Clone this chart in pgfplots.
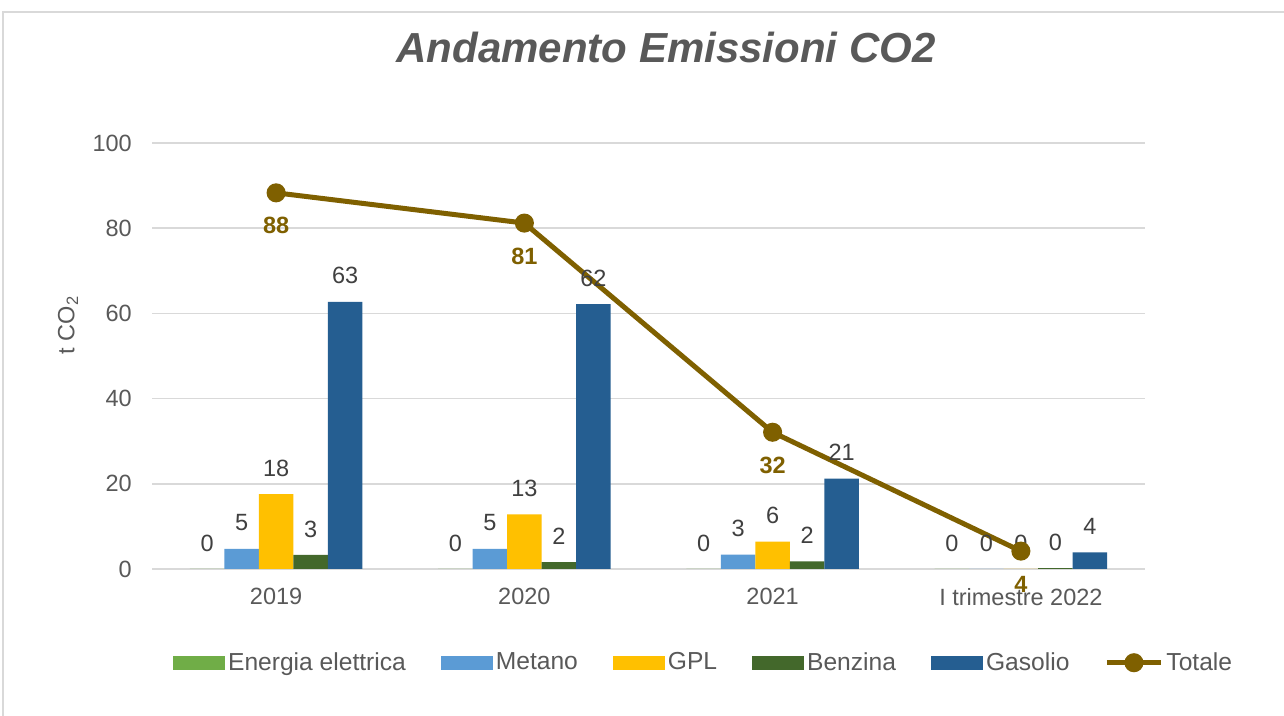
\documentclass[border=0pt]{standalone}
\usepackage{fontspec}
\setmainfont{Liberation Sans}
\usepackage{pgfplots}
\pgfplotsset{compat=1.18}
\definecolor{cEn}{HTML}{70AD47}
\definecolor{cMe}{HTML}{5B9BD5}
\definecolor{cGp}{HTML}{FFC000}
\definecolor{cBe}{HTML}{43682B}
\definecolor{cGa}{HTML}{255E91}
\definecolor{cTot}{HTML}{7F6000}
\definecolor{gridc}{HTML}{D9D9D9}
\definecolor{framec}{HTML}{D9D9D9}
\definecolor{tickc}{HTML}{595959}
\definecolor{labc}{HTML}{404040}
\newcommand\fs{\fontsize{11.75}{14}\selectfont}
\newcommand\fl{\fontsize{12.3}{14}\selectfont}
\pgfplotsset{
  barleg/.style={legend image code/.code={\fill[##1] (0pt,-3.5pt) rectangle (26pt,3.5pt);}},
  totleg/.style={legend image code/.code={\draw[mark repeat=2,mark phase=2,##1] plot coordinates {(0pt,0pt) (13.5pt,0pt) (27pt,0pt)};}},
  barstyle/.style={ybar, bar shift=#1, bar width=17.25pt, draw=none, barleg,
    nodes near coords={\pgfmathprintnumber[fixed,precision=0]{\pgfplotspointmeta}},
    point meta=y,
    every node near coord/.append style={font=\fs, color=labc, anchor=center, xshift=#1, yshift=13pt}},
}
\begin{document}
\begin{tikzpicture}
\path[use as bounding box, fill=white] (-76pt,-73.5pt) rectangle (566pt,284.5pt);
\draw[color=framec, line width=0.75pt] (-74.5pt,-73.5pt) -- (-74.5pt,278.5pt) -- (566pt,278.5pt);
\begin{axis}[
  at={(0pt,0pt)}, anchor=south west,
  scale only axis, width=496.5pt, height=213pt,
  xmin=-0.5, xmax=3.5, ymin=0, ymax=100,
  ytick={0,20,40,60,80,100},
  xtick={0,1,2,3},
  xticklabels={2019,2020,2021,I trimestre 2022},
  major tick length=0pt,
  axis line style={draw=none},
  ymajorgrids, grid style={color=gridc, line width=0.75pt},
  tick label style={font=\fs, color=tickc},
  yticklabel style={xshift=-6.6pt},
  xticklabel style={yshift=-6pt},
  /pgf/number format/assume math mode=true,
  clip=false,
  legend columns=6,
  legend style={at={(0.556,-0.22)}, anchor=center, draw=none, fill=none,
    font=\fl, text=tickc, nodes={inner sep=1.5pt},
    /tikz/every even column/.append style={column sep=16pt}},
  legend cell align=left,
]
\addplot[barstyle=-34.5pt, fill=cEn] coordinates {(0,0) (1,0) (2,0) (3,0)};
\addlegendentry{Energia elettrica}
\addplot[barstyle=-17.25pt, fill=cMe] coordinates {(0,4.7) (1,4.7) (2,3.4) (3,0)};
\addlegendentry{Metano}
\addplot[barstyle=0pt, fill=cGp] coordinates {(0,17.6) (1,12.8) (2,6.4) (3,0)};
\addlegendentry{GPL}
\addplot[barstyle=17.25pt, fill=cBe] coordinates {(0,3.3) (1,1.6) (2,1.8) (3,0.2)};
\addlegendentry{Benzina}
\addplot[barstyle=34.5pt, fill=cGa] coordinates {(0,62.7) (1,62.2) (2,21.2) (3,3.9)};
\addlegendentry{Gasolio}
\addplot[color=cTot, line width=2.5pt, mark=*, mark size=3.5pt, mark options={solid}, totleg,
  nodes near coords={\pgfmathprintnumber[fixed,precision=0]{\pgfplotspointmeta}},
  point meta=y,
  every node near coord/.append style={font=\fs\bfseries, color=cTot, anchor=center, yshift=-16.5pt}]
  coordinates {(0,88.3) (1,81.2) (2,32.1) (3,4.2)};
\addlegendentry{Totale}
\end{axis}
\node[font=\fontsize{21}{25}\selectfont\bfseries\itshape, text=tickc] at (257pt,260.5pt) {Andamento Emissioni CO2};
\node[rotate=90, font=\fs, text=tickc] at (-42pt,122pt) {t CO\textsubscript{2}};
\end{tikzpicture}
\end{document}
